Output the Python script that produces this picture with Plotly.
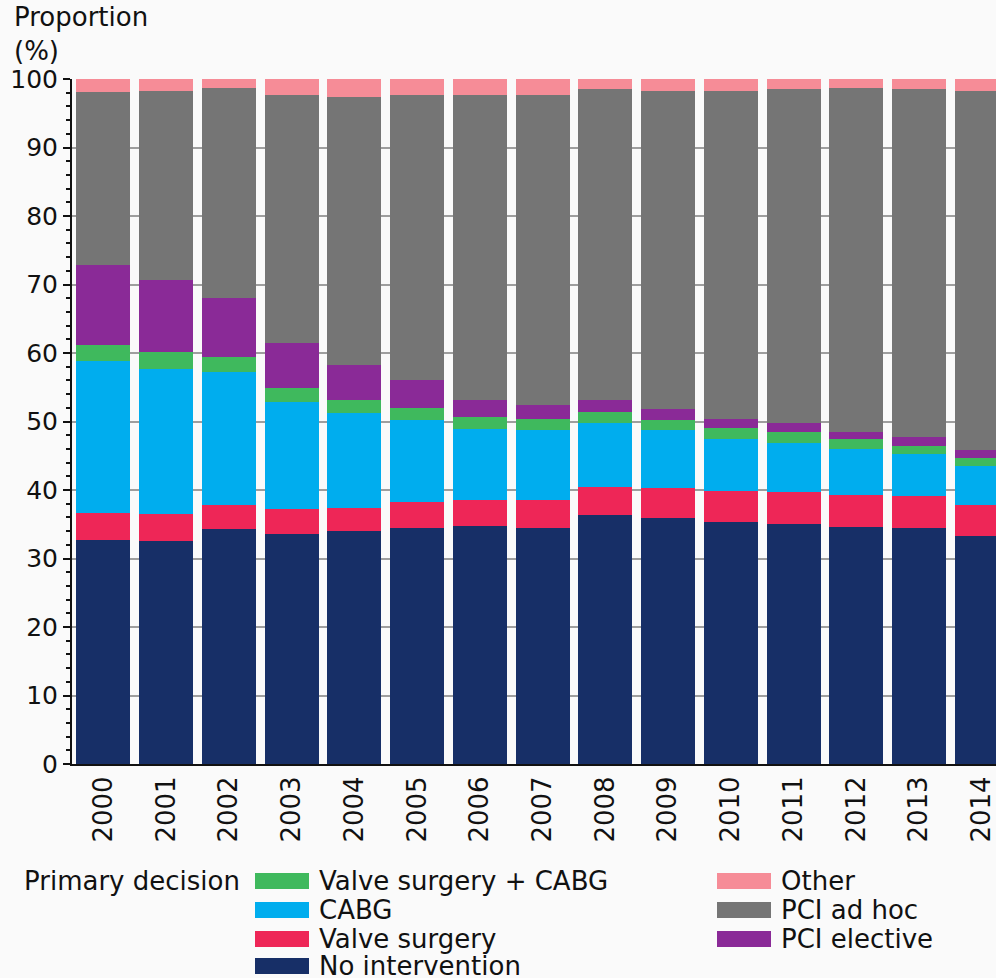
import plotly.graph_objects as go

YEARS = [str(y) for y in range(2000, 2015)]

NO_INTERVENTION = [32.7, 32.5, 34.3, 33.6, 34.0, 34.5, 34.7, 34.5, 36.3, 35.9, 35.4, 35.0, 34.6, 34.4, 33.3]
VALVE_SURGERY = [4.0, 4.0, 3.5, 3.6, 3.4, 3.8, 3.8, 4.0, 4.1, 4.4, 4.5, 4.7, 4.6, 4.7, 4.5]
CABG = [22.2, 21.1, 19.5, 15.7, 13.9, 11.9, 10.4, 10.2, 9.4, 8.4, 7.6, 7.2, 6.8, 6.2, 5.7]
VALVE_CABG = [2.2, 2.5, 2.1, 2.0, 1.8, 1.8, 1.8, 1.7, 1.6, 1.5, 1.6, 1.5, 1.4, 1.1, 1.1]
PCI_ELECTIVE = [11.8, 10.6, 8.7, 6.5, 5.1, 4.0, 2.4, 2.0, 1.7, 1.6, 1.3, 1.4, 1.0, 1.3, 1.2]
PCI_AD_HOC = [25.2, 27.6, 30.6, 36.3, 39.2, 41.7, 44.6, 45.3, 45.4, 46.5, 47.9, 48.7, 50.3, 50.8, 52.5]
OTHER = [1.9, 1.7, 1.3, 2.3, 2.6, 2.3, 2.3, 2.3, 1.5, 1.7, 1.7, 1.5, 1.3, 1.5, 1.7]

# bottom to top
SERIES = [
    ("No intervention", NO_INTERVENTION, "#172f67"),
    ("Valve surgery", VALVE_SURGERY, "#ee2657"),
    ("CABG", CABG, "#00adee"),
    ("Valve surgery + CABG", VALVE_CABG, "#3fb95d"),
    ("PCI elective", PCI_ELECTIVE, "#8a2a97"),
    ("PCI ad hoc", PCI_AD_HOC, "#757575"),
    ("Other", OTHER, "#f68c97"),
]

# legend layout: (name, column, row)
LEGEND_SLOTS = [
    ("Valve surgery + CABG", 0, 0),
    ("CABG", 0, 1),
    ("Valve surgery", 0, 2),
    ("No intervention", 0, 3),
    ("Other", 1, 0),
    ("PCI ad hoc", 1, 1),
    ("PCI elective", 1, 2),
]

FONT = "'DejaVu Sans', 'Open Sans', sans-serif"
W, H = 996, 978
L, R, T, B = 72, 0, 79, 214
PW, PH = W - L - R, H - T - B


def px_x(x):
    return (x - L) / PW


def px_y(y):
    return (H - B - y) / PH


fig = go.Figure()
for name, values, color in SERIES:
    fig.add_trace(
        go.Bar(
            x=YEARS,
            y=values,
            name=name,
            marker={"color": color, "line": {"width": 0}},
            showlegend=False,
        )
    )

colors = {name: color for name, _, color in SERIES}
col_x = [255, 717]
row_y = [881, 910, 939, 966]
for name, col, row in LEGEND_SLOTS:
    x0 = col_x[col]
    yc = row_y[row]
    fig.add_shape(
        type="rect",
        xref="paper",
        yref="paper",
        x0=px_x(x0),
        x1=px_x(x0 + 54),
        y0=px_y(yc + 8),
        y1=px_y(yc - 8),
        fillcolor=colors[name],
        line_width=0,
    )
    fig.add_annotation(
        xref="paper",
        yref="paper",
        x=px_x(x0 + 62),
        y=px_y(yc),
        xanchor="left",
        yanchor="middle",
        text=name,
        showarrow=False,
        font={"size": 26, "color": "#111"},
    )

fig.add_annotation(
    xref="paper",
    yref="paper",
    x=px_x(242),
    y=px_y(881),
    xanchor="right",
    yanchor="middle",
    text="Primary decision",
    showarrow=False,
    font={"size": 26, "color": "#111"},
)
fig.add_annotation(
    xref="paper",
    yref="paper",
    x=px_x(12),
    y=px_y(0),
    xanchor="left",
    yanchor="top",
    align="left",
    text="Proportion<br>(%)",
    showarrow=False,
    font={"size": 26, "color": "#111"},
)

fig.update_layout(
    width=W,
    height=H,
    barmode="stack",
    bargap=0.14,
    margin={"l": L, "r": R, "t": T, "b": B},
    paper_bgcolor="#fafafa",
    plot_bgcolor="#fafafa",
    font={"family": FONT, "size": 26, "color": "#111"},
    showlegend=False,
)
fig.update_xaxes(
    type="category",
    range=[-0.5, 14.227],
    tickangle=-90,
    showline=True,
    linecolor="#111",
    linewidth=2,
    ticks="",
    showgrid=False,
    tickfont={"size": 26},
)
fig.update_yaxes(
    range=[0, 100],
    dtick=10,
    showline=True,
    linecolor="#111",
    linewidth=2,
    ticks="outside",
    ticklen=7,
    tickwidth=1.5,
    tickcolor="#111",
    gridcolor="#9e9e9e",
    gridwidth=1.5,
    zeroline=False,
    minor={"dtick": 2, "ticks": "outside", "ticklen": 4, "tickcolor": "#111", "showgrid": False},
    tickfont={"size": 25},
)

fig.write_html(
    "out.html",
    config={"displayModeBar": False},
    post_script="document.body.style.margin='0';document.body.style.overflow='hidden';",
)
